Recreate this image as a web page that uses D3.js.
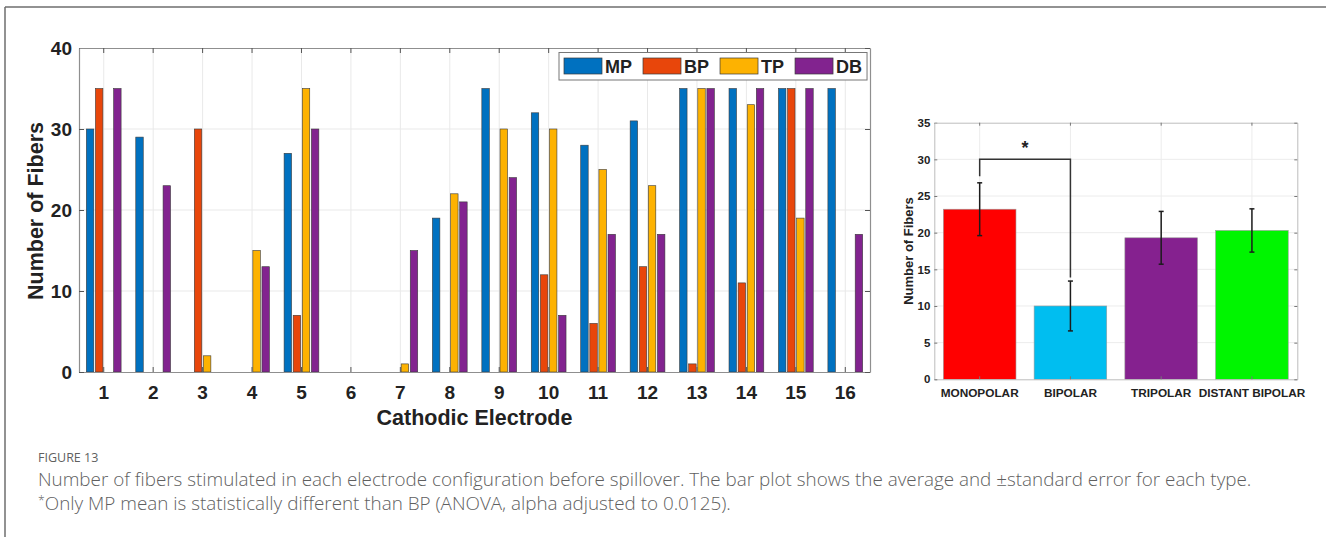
<!DOCTYPE html>
<html>
<head>
<meta charset="utf-8">
<script src="https://cdn.jsdelivr.net/npm/d3@7"></script>
<style>
  html, body { margin: 0; padding: 0; background: #fff; }
  svg { display: block; }
  .bold { font-family: "Liberation Sans", Arial, Helvetica, sans-serif; font-weight: bold; fill: #222; }
  .caption { font-family: "Open Sans", "Noto Sans", sans-serif; font-weight: 300; fill: #5f5f5f; }
</style>
</head>
<body>
<svg id="fig" width="1326" height="537"></svg>
<script>
// ---- per-electrode fiber counts ----
const electrodes = ["1","2","3","4","5","6","7","8","9","10","11","12","13","14","15","16"];
const seriesNames = ["MP", "BP", "TP", "DB"];
const mpValues = [30, 29, 0, 0, 27, 0, 0, 19, 35, 32, 28, 31, 35, 35, 35, 35];
const bpValues = [35, 0, 30, 0, 7, 0, 0, 0, 0, 12, 6, 13, 1, 11, 35, 0];
const tpValues = [0, 0, 2, 15, 35, 0, 1, 22, 30, 30, 25, 23, 35, 33, 19, 0];
const dbValues = [35, 23, 0, 13, 30, 0, 15, 21, 24, 7, 17, 17, 35, 35, 35, 17];
const leftTicks = [0, 10, 20, 30, 40];

// ---- averages per configuration type (mean ± standard error) ----
const typeLabels = ["MONOPOLAR", "BIPOLAR", "TRIPOLAR", "DISTANT BIPOLAR"];
const typeMeans = [23.2, 10.0, 19.3, 20.3];
const typeErrors = [3.6, 3.4, 3.6, 2.95];
const rightTicks = [0, 5, 10, 15, 20, 25, 30, 35];
const sigPair = ["MONOPOLAR", "BIPOLAR"];
const sigLevel = 30;

const seriesColors = ["#0071C0", "#E8460B", "#FDB201", "#82238F"];
const typeColors = ["#FF0000", "#00BEF0", "#85218F", "#00F500"];

const svg = d3.select("#fig");

// outer frame (top and left rules)
svg.append("line").attr("x1", 5).attr("x2", 1326).attr("y1", 7).attr("y2", 7)
  .attr("stroke", "#6e6e6e").attr("stroke-width", 1.5);
svg.append("line").attr("x1", 5).attr("x2", 5).attr("y1", 7).attr("y2", 537)
  .attr("stroke", "#6e6e6e").attr("stroke-width", 1.5);

// =============== grouped bar chart ===============
(function () {
  const L = 79, R = 870, T = 48, B = 372;
  const x = d3.scaleBand().domain(electrodes).range([L, R]).padding(0);
  const y = d3.scaleLinear().domain([0, 40]).range([B, T]);
  const groupW = x.bandwidth() * 0.736;
  const xs = d3.scaleBand().domain(seriesNames).range([-groupW / 2, groupW / 2])
    .paddingInner(0.18).paddingOuter(0.09);
  const g = svg.append("g");

  // grid
  g.append("g").selectAll("line").data(leftTicks.slice(1, -1)).join("line")
    .attr("x1", L).attr("x2", R).attr("y1", d => y(d)).attr("y2", d => y(d))
    .attr("stroke", "#e9e9e9").attr("stroke-width", 1);
  g.append("g").selectAll("line").data(electrodes).join("line")
    .attr("x1", d => x(d) + x.bandwidth() / 2).attr("x2", d => x(d) + x.bandwidth() / 2)
    .attr("y1", T).attr("y2", B)
    .attr("stroke", "#e9e9e9").attr("stroke-width", 1);

  // bars
  const seriesValues = [mpValues, bpValues, tpValues, dbValues];
  const rows = [];
  electrodes.forEach((e, i) => seriesNames.forEach((s, j) => {
    rows.push({ e, s, j, v: seriesValues[j][i] });
  }));
  g.append("g").selectAll("rect").data(rows.filter(d => d.v > 0)).join("rect")
    .attr("x", d => x(d.e) + x.bandwidth() / 2 + xs(d.s))
    .attr("width", xs.bandwidth())
    .attr("y", d => y(d.v))
    .attr("height", d => y(0) - y(d.v))
    .attr("fill", d => seriesColors[d.j])
    .attr("stroke", "#3a3a3a").attr("stroke-width", 0.6);

  // axes (ticks inward, box around)
  const ax = g.append("g").attr("transform", `translate(0,${B})`)
    .call(d3.axisBottom(x).tickSize(-5).tickPadding(14).tickSizeOuter(0));
  const ay = g.append("g").attr("transform", `translate(${L},0)`)
    .call(d3.axisLeft(y).tickValues(leftTicks).tickSize(-5).tickPadding(7).tickSizeOuter(0));
  const axTop = g.append("g").attr("transform", `translate(0,${T})`)
    .call(d3.axisTop(x).tickSize(-5).tickFormat("").tickSizeOuter(0));
  const ayR = g.append("g").attr("transform", `translate(${R},0)`)
    .call(d3.axisRight(y).tickValues(leftTicks).tickSize(-5).tickFormat("").tickSizeOuter(0));
  [ax, ay, axTop, ayR].forEach(a => {
    a.select(".domain").attr("stroke", "#8f8f8f").attr("stroke-width", 1.2);
    a.selectAll(".tick line").attr("stroke", "#555");
  });
  [ax, ay].forEach(a => a.selectAll("text").attr("class", "bold").style("font-size", "19px"));

  g.append("text").attr("class", "bold").style("font-size", "21.5px")
    .attr("text-anchor", "middle").attr("x", (L + R) / 2).attr("y", 425)
    .text("Cathodic Electrode");
  g.append("text").attr("class", "bold").style("font-size", "21.5px")
    .attr("text-anchor", "middle")
    .attr("transform", `translate(43,${(T + B) / 2 + 1}) rotate(-90)`)
    .text("Number of Fibers");

  // legend
  const lg = g.append("g");
  const box = lg.append("rect").attr("y", 52.5).attr("height", 27.5)
    .attr("fill", "#fff").attr("stroke", "#777").attr("stroke-width", 1);
  let cx = 564;
  seriesNames.forEach((s, j) => {
    lg.append("rect").attr("x", cx).attr("y", 58).attr("width", 38).attr("height", 16)
      .attr("fill", seriesColors[j]).attr("stroke", "#3a3a3a").attr("stroke-width", 0.7);
    const t = lg.append("text").attr("class", "bold").style("font-size", "18px")
      .attr("x", cx + 41).attr("y", 72.5).text(s);
    cx += 41 + t.node().getComputedTextLength() + 11;
  });
  box.attr("x", 559).attr("width", cx - 11 + 5 - 559);
})();

// =============== mean ± SE bar chart ===============
(function () {
  const L = 934.3, R = 1297.3, T = 122.7, B = 379.3;
  const x = d3.scaleBand().domain(typeLabels).range([L, R]).paddingInner(0.2).paddingOuter(0.1);
  const xc = d => x(d) + x.bandwidth() / 2;
  const y = d3.scaleLinear().domain([0, 35]).range([B, T]);
  const g = svg.append("g");

  g.append("g").selectAll("line").data(rightTicks.slice(1, -1)).join("line")
    .attr("x1", L).attr("x2", R).attr("y1", d => y(d)).attr("y2", d => y(d))
    .attr("stroke", "#ececec");
  g.append("g").selectAll("line").data(typeLabels).join("line")
    .attr("x1", xc).attr("x2", xc).attr("y1", T).attr("y2", B)
    .attr("stroke", "#ececec");

  const rows = typeLabels.map((t, i) => ({ t, i, m: typeMeans[i], e: typeErrors[i] }));
  g.append("g").selectAll("rect").data(rows).join("rect")
    .attr("x", d => x(d.t)).attr("width", x.bandwidth())
    .attr("y", d => y(d.m)).attr("height", d => y(0) - y(d.m))
    .attr("fill", d => typeColors[d.i]).attr("stroke", "#9a9a9a").attr("stroke-width", 0.6);

  // error bars
  const eg = g.append("g").attr("stroke", "#1c1c1c").attr("stroke-width", 1.5);
  rows.forEach(d => {
    const cxv = xc(d.t);
    eg.append("line").attr("x1", cxv).attr("x2", cxv).attr("y1", y(d.m - d.e)).attr("y2", y(d.m + d.e));
    [d.m - d.e, d.m + d.e].forEach(v => eg.append("line")
      .attr("x1", cxv - 2.5).attr("x2", cxv + 2.5).attr("y1", y(v)).attr("y2", y(v)));
  });

  // significance bracket
  const a = rows.find(r => r.t === sigPair[0]), b = rows.find(r => r.t === sigPair[1]);
  g.append("path").attr("fill", "none").attr("stroke", "#333").attr("stroke-width", 1.5)
    .attr("d", `M${xc(a.t)},${y(a.m + a.e + 0.9)}V${y(sigLevel)}H${xc(b.t)}V${y(b.m + b.e + 0.5)}`);
  g.append("text").attr("class", "bold").style("font-size", "18px").attr("text-anchor", "middle")
    .attr("x", (xc(a.t) + xc(b.t)) / 2).attr("y", y(sigLevel) - 5).text("*");

  const ax = g.append("g").attr("transform", `translate(0,${B})`)
    .call(d3.axisBottom(x).tickSize(-3).tickPadding(9).tickSizeOuter(0));
  const ay = g.append("g").attr("transform", `translate(${L},0)`)
    .call(d3.axisLeft(y).tickValues(rightTicks).tickSize(-3).tickPadding(4).tickSizeOuter(0));
  const axTop = g.append("g").attr("transform", `translate(0,${T})`)
    .call(d3.axisTop(x).tickSize(-3).tickFormat("").tickSizeOuter(0));
  const ayR = g.append("g").attr("transform", `translate(${R},0)`)
    .call(d3.axisRight(y).tickValues(rightTicks).tickSize(-3).tickFormat("").tickSizeOuter(0));
  [ax, ay, axTop, ayR].forEach(s => {
    s.select(".domain").attr("stroke", "#bdbdbd").attr("stroke-width", 1);
    s.selectAll(".tick line").attr("stroke", "#777");
  });
  ax.selectAll("text").attr("class", "bold").style("font-size", "11.8px");
  ay.selectAll("text").attr("class", "bold").style("font-size", "11.5px");

  g.append("text").attr("class", "bold").style("font-size", "13px").attr("text-anchor", "middle")
    .attr("transform", `translate(913,${(T + B) / 2}) rotate(-90)`)
    .text("Number of Fibers");
})();

// =============== caption ===============
svg.append("text").attr("class", "caption").style("font-size", "12.5px").style("font-weight", 400)
  .attr("x", 38).attr("y", 462).attr("fill", "#6a6a6a").text("FIGURE 13");
const line1 = svg.append("text").attr("class", "caption").style("font-size", "16px")
  .attr("x", 38).attr("y", 486)
  .text("Number of fibers stimulated in each electrode configuration before spillover. The bar plot shows the average and \u00B1standard error for each type.");
// scale caption to its column width
const w1 = line1.node().getComputedTextLength();
const capSize = 16 * 1214 / w1;
line1.style("font-size", capSize + "px");
const line2 = svg.append("text").attr("class", "caption").style("font-size", capSize + "px")
  .attr("x", 38).attr("y", 510);
line2.append("tspan").style("font-size", (capSize * 0.65) + "px").attr("dy", -5).text("*");
line2.append("tspan").attr("dy", 5).text("Only MP mean is statistically different than BP (ANOVA, alpha adjusted to 0.0125).");
</script>
</body>
</html>
